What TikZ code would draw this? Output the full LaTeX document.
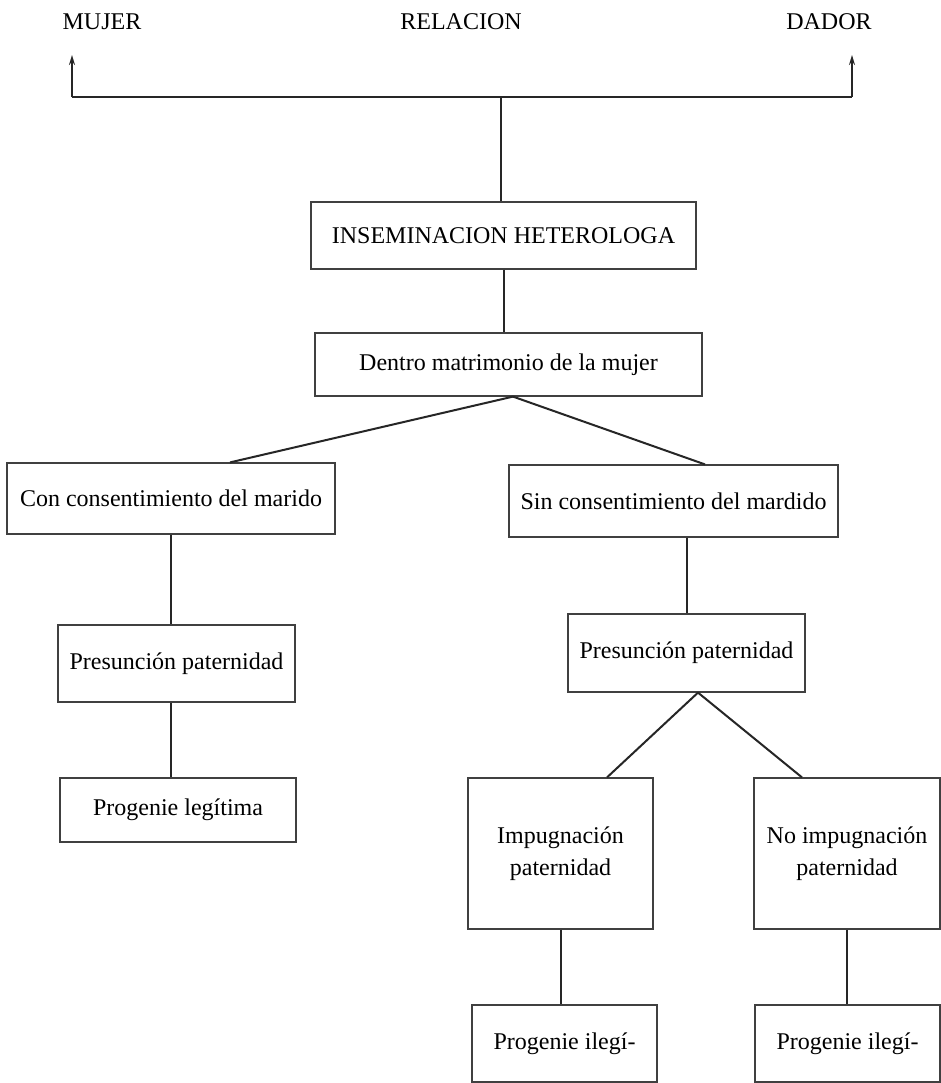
\documentclass[tikz,border=0pt]{standalone}
\usepackage{fontspec}
\setmainfont{Liberation Serif}
\usepackage{tikz}
\usetikzlibrary{arrows.meta, positioning, calc}

\begin{document}
\begin{tikzpicture}[x=0.5pt, y=-0.5pt, font={\fontsize{12pt}{16pt}\selectfont},
  box/.style={draw=black!75, line width=0.6pt, inner sep=0pt, align=center},
  link/.style={draw=black!85, line width=1pt},
  up/.style={link, -{Stealth[length=5pt, width=3pt]}}]
  \useasboundingbox[fill=white] (0,0) rectangle (941,1083);
  % top line: the three parties
  \node (mujer) at (102,22) {MUJER};
  \node (relacion) at (461,22) {RELACION};
  \node (dador) at (829,22) {DADOR};
  \coordinate (barL) at (72,97);
  \coordinate (barR) at (852,97);
  \coordinate (barM) at (501,97);
  \coordinate (tipL) at (72,55);
  \coordinate (tipR) at (852,55);
  \draw[link, line width=1.3pt] (barL) -- (barR);
  \draw[up] (barL) -- (tipL);
  \draw[up] (barR) -- (tipR);
  % main boxes
  \node[box, minimum width=192.5pt, minimum height=33.5pt] (ins) at (503.5,235.5) {INSEMINACION HETEROLOGA};
  \node[box, minimum width=193.5pt, minimum height=31.5pt] (dentro) at (508.5,364.5) {Dentro matrimonio de la mujer};
  \node[box, minimum width=164pt, minimum height=35.5pt] (con) at (171,498.5) {Con consentimiento del marido};
  \node[box, minimum width=164.5pt, minimum height=36pt] (sin) at (673.5,501) {Sin consentimiento del mardido};
  % left branch
  \node[box, minimum width=118.5pt, minimum height=38.5pt] (presL) at (176.5,663.5) {Presunción paternidad};
  \node[box, minimum width=118pt, minimum height=32pt] (progL) at (178,810) {Progenie legítima};
  % right branch
  \node[box, minimum width=118.5pt, minimum height=39pt] (presR) at (686.5,653) {Presunción paternidad};
  \node[box, minimum width=92.5pt, minimum height=75.5pt] (impug) at (560.5,853.5) {Impugnación\\paternidad};
  \node[box, minimum width=93pt, minimum height=75.5pt] (noimp) at (847,853.5) {No impugnación\\paternidad};
  \node[box, minimum width=92.5pt, minimum height=38.5pt] (ileL) at (564.5,1043.5) {Progenie ilegí-};
  \node[box, minimum width=92.5pt, minimum height=38.5pt] (ileR) at (847.5,1043.5) {Progenie ilegí-};
  % connectors
  \draw[link] (barM) -- (barM |- ins.north);
  \draw[link] (ins.south) -- (ins.south |- dentro.north);
  \draw[link] ([xshift=2.25pt]dentro.south) -- ([xshift=29.5pt]con.north);
  \draw[link] ([xshift=2.25pt]dentro.south) -- ([xshift=15.75pt]sin.north);
  \draw[link] (con.south) -- (con.south |- presL.north);
  \draw[link] (con.south |- presL.south) -- (con.south |- progL.north);
  \draw[link] (presR.north |- sin.south) -- (presR.north);
  \draw[link] ([xshift=5.75pt]presR.south) -- ([xshift=23.25pt]impug.north);
  \draw[link] ([xshift=5.75pt]presR.south) -- ([xshift=-22.5pt]noimp.north);
  \draw[link] (impug.south) -- (impug.south |- ileL.north);
  \draw[link] (noimp.south) -- (noimp.south |- ileR.north);
\end{tikzpicture}
\end{document}
